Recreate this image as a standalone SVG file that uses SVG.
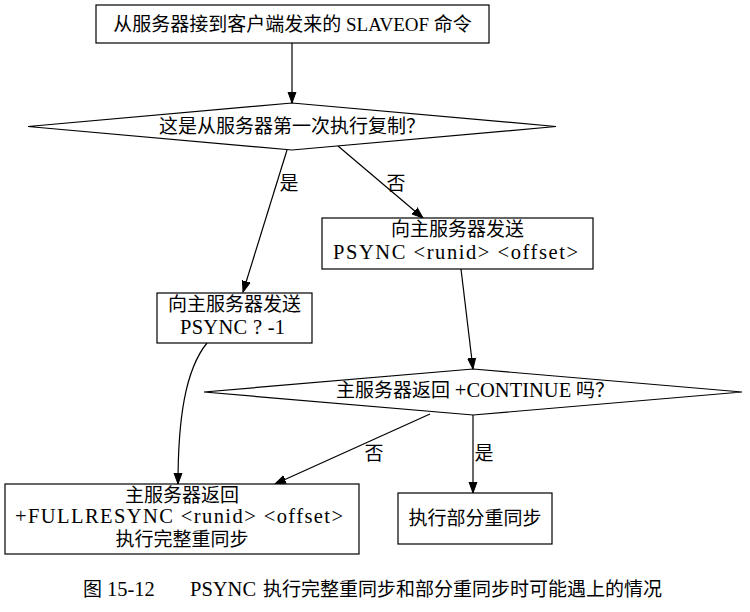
<svg xmlns="http://www.w3.org/2000/svg" width="750" height="612" viewBox="0 0 750 612">
<style>
text{font-family:"Liberation Serif","Noto Sans CJK SC",serif;font-size:19px;fill:#000;text-anchor:middle}
.l{font-size:20.5px}
.n{fill:#fff;stroke:#000;stroke-width:1.2}
.e{fill:none;stroke:#000;stroke-width:1.2;marker-end:url(#a)}
</style>
<defs>
<marker id="a" markerWidth="12" markerHeight="10" refX="11" refY="5" orient="auto" markerUnits="userSpaceOnUse">
<path d="M0,1 L11,5 L0,9 Z" fill="#000" stroke="#000" stroke-width="1"/>
</marker>
</defs>
<rect width="750" height="612" fill="#fff"/>
<g id="connectors">
<path class="e" d="M287,150 L243,292"/>
<path class="e" d="M292,43 L292,103"/>
<path class="e" d="M338,146 L423,218"/>
<path class="e" d="M461,269 L473,369"/>
<path class="e" d="M207,343 C185,370 178,420 178,484"/>
<path class="e" d="M430,414 L275,484"/>
<path class="e" d="M473,415 L473,493"/>
<text x="289" y="190">是</text>
<text x="396" y="190">否</text>
<text x="374" y="460">否</text>
<text x="484" y="460">是</text>
</g>
<g id="start">
<rect class="n" x="96" y="5" width="393" height="38"/>
<text x="292.5" y="31">从服务器接到客户端发来的 SLAVEOF 命令</text>
</g>
<g id="first">
<polygon class="n" points="292,103 556,126.5 292,150 28,126.5"/>
<text x="292" y="133">这是从服务器第一次执行复制？</text>
</g>
<g id="psync_partial">
<rect class="n" x="322" y="218" width="271" height="51"/>
<text x="457.5" y="236">向主服务器发送</text>
<text class="l" x="455.5" y="258.5" textLength="245" lengthAdjust="spacing">PSYNC &lt;runid&gt; &lt;offset&gt;</text>
</g>
<g id="psync_full">
<rect class="n" x="157" y="293" width="155" height="50"/>
<text x="234.5" y="311">向主服务器发送</text>
<text class="l" x="232.5" y="333.5" textLength="105" lengthAdjust="spacing">PSYNC ? -1</text>
</g>
<g id="continue">
<polygon class="n" points="473,369 742,392 473,415 204,392"/>
<text x="475" y="397">主服务器返回 <tspan class="l">+CONTINUE</tspan> 吗？</text>
</g>
<g id="fullresync">
<rect class="n" x="5" y="484" width="354" height="70"/>
<text x="182" y="501.5">主服务器返回</text>
<text class="l" x="179" y="523" textLength="328" lengthAdjust="spacing">+FULLRESYNC &lt;runid&gt; &lt;offset&gt;</text>
<text x="182" y="546">执行完整重同步</text>
</g>
<g id="partial">
<rect class="n" x="398" y="493" width="154" height="51"/>
<text x="475" y="525">执行部分重同步</text>
</g>
<text y="596" style="text-anchor:start"><tspan x="83">图</tspan><tspan class="l" x="107">15-12</tspan><tspan class="l" x="190">PSYNC</tspan><tspan x="263">执行完整重同步和部分重同步时可能遇上的情况</tspan></text>
</svg>
